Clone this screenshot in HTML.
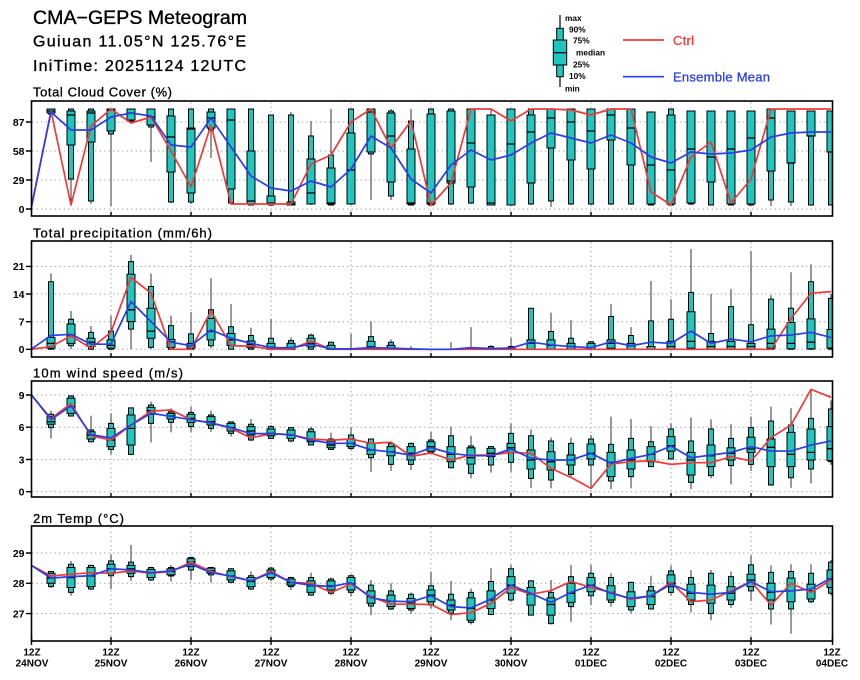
<!DOCTYPE html>
<html><head><meta charset="utf-8"><style>
html,body{margin:0;padding:0;background:#fff}
svg{display:block}
text{font-family:"Liberation Sans",sans-serif;fill:#000}
.th{stroke:#000;stroke-width:0.35}
.w{fill:none;stroke:#333;stroke-width:1;vector-effect:non-scaling-stroke}
.b{fill:#20c5be;stroke:#000;stroke-width:1;vector-effect:non-scaling-stroke}
.m{fill:none;stroke:#000;stroke-width:1.3;vector-effect:non-scaling-stroke}
.r{fill:none;stroke:#ee3a3a;stroke-width:1.7;stroke-linejoin:round;vector-effect:non-scaling-stroke}
.u{fill:none;stroke:#2a3ee6;stroke-width:1.7;stroke-linejoin:round;vector-effect:non-scaling-stroke}
.g{stroke:#aaa;stroke-width:1;stroke-dasharray:1.5 3;fill:none}
.f{fill:none;stroke:#000;stroke-width:1.6}
.t{stroke:#000;stroke-width:1.4}
.yl{font-size:10.5px;font-weight:bold;text-anchor:end}
.xl{font-size:10px;font-weight:bold;text-anchor:middle}
.pt{font-size:13px;stroke:#000;stroke-width:0.3}
.lg{font-size:8.3px;font-weight:bold}
</style></head><body>
<svg width="860" height="680" viewBox="0 0 860 680" xmlns="http://www.w3.org/2000/svg">
<defs>
<clipPath id="c1"><rect x="32" y="101" width="800" height="115"/></clipPath>
<clipPath id="c2"><rect x="32" y="241" width="800" height="116"/></clipPath>
<clipPath id="c3"><rect x="32" y="381" width="800" height="116"/></clipPath>
<clipPath id="c4"><rect x="32" y="526" width="800" height="115"/></clipPath>
</defs>

<!-- Titles -->
<text class="th" x="33" y="24" font-size="19.5" textLength="214" lengthAdjust="spacing">CMA−GEPS Meteogram</text>
<text class="th" x="33" y="46.7" font-size="16" textLength="213" lengthAdjust="spacing">Guiuan 11.05°N 125.76°E</text>
<text class="th" x="33" y="71" font-size="16" textLength="213" lengthAdjust="spacing">IniTime: 20251124 12UTC</text>

<!-- Legend -->
<line x1="560" y1="15" x2="560" y2="87" stroke="#000" stroke-width="1.2"/>
<rect x="556.7" y="28.3" width="6.6" height="48.4" fill="#20c5be" stroke="#000" stroke-width="1"/>
<rect x="553.3" y="40" width="13.4" height="25" fill="#20c5be" stroke="#000" stroke-width="1"/>
<line x1="553.3" y1="52.7" x2="566.7" y2="52.7" stroke="#000" stroke-width="1.2"/>
<text class="lg" x="565" y="21">max</text>
<text class="lg" x="569" y="32.3">90%</text>
<text class="lg" x="573" y="43.6">75%</text>
<text class="lg" x="576" y="55.7">median</text>
<text class="lg" x="573" y="67.4">25%</text>
<text class="lg" x="569" y="79">10%</text>
<text class="lg" x="565" y="91.5">min</text>
<line x1="623" y1="40" x2="664" y2="40" stroke="#ee3a3a" stroke-width="1.7"/>
<text x="673" y="45" font-size="13" style="fill:#ee3a3a;stroke:#ee3a3a;stroke-width:0.3" textLength="21" lengthAdjust="spacing">Ctrl</text>
<line x1="623" y1="76.7" x2="664" y2="76.7" stroke="#2a3ee6" stroke-width="1.7"/>
<text x="673" y="81.5" font-size="13" style="fill:#2a3ee6;stroke:#2a3ee6;stroke-width:0.3" textLength="97" lengthAdjust="spacing">Ensemble Mean</text>

<!-- Panel titles -->
<text class="pt" x="33" y="96.7" textLength="139" lengthAdjust="spacing">Total Cloud Cover (%)</text>
<text class="pt" x="33" y="237.3" textLength="179" lengthAdjust="spacing">Total precipitation (mm/6h)</text>
<text class="pt" x="33" y="377.7" textLength="150" lengthAdjust="spacing">10m wind speed (m/s)</text>
<text class="pt" x="33" y="523" textLength="91" lengthAdjust="spacing">2m Temp (°C)</text>

<!-- Grids -->
<path class="g" d="M32 122H832M32 151H832M32 180H832M32 209H832
M111 102V216M191 102V216M271 102V216M351 102V216M431 102V216M511 102V216M591 102V216M671 102V216M751 102V216"/>
<path class="g" d="M32 266.4H832M32 294H832M32 321.7H832M32 349.3H832
M111 242V357M191 242V357M271 242V357M351 242V357M431 242V357M511 242V357M591 242V357M671 242V357M751 242V357"/>
<path class="g" d="M32 395H832M32 427.2H832M32 459.5H832M32 491.7H832
M111 382V497M191 382V497M271 382V497M351 382V497M431 382V497M511 382V497M591 382V497M671 382V497M751 382V497"/>
<path class="g" d="M32 553H832M32 583.3H832M32 613.6H832
M111 527V641M191 527V641M271 527V641M351 527V641M431 527V641M511 527V641M591 527V641M671 527V641M751 527V641"/>

<!-- Panel 1: cloud cover -->
<g clip-path="url(#c1)"><g transform="matrix(1 0 0 -1 0 209)">
<path class="w" d="M51 94V100M71 5V100M91 5V100M111 3V100M131 86V100M151 47V100M171 6V100M191 5V100M211 51V100M231 5V100M251 4V100M271 4V94M291 4V97M311 4V88M331 4V100M351 4V100M371 9V100M391 9V100M411 4V100M431 4V100M451 4V100M471 5V100M491 4V100M511 4V100M531 4V100M551 2V100M571 4V100M591 4V100M611 4V100M631 4V100M651 4V97M671 4V100M691 4V98M711 4V98M731 4V98M751 4V98M771 3V100M791 3V98M811 4V98M831 4V98"/>
<path class="b" d="M48.5 95V100h5V95Z M68.5 30V100h5V30Z M88.5 8V100h5V8Z M108.5 75V100h5V75Z M128.5 88V100h5V88Z M148.5 82V100h5V82Z M168.5 7V100h5V7Z M188.5 7V100h5V7Z M208.5 79V100h5V79Z M228.5 6V100h5V6Z M248.5 4V100h5V4Z M268.5 4V94h5V4Z M288.5 4V94h5V4Z M308.5 5V73h5V5Z M328.5 4V54h5V4Z M348.5 5V100h5V5Z M368.5 55V100h5V55Z M388.5 13V98h5V13Z M408.5 4V88h5V4Z M428.5 4V100h5V4Z M448.5 5V100h5V5Z M468.5 6V100h5V6Z M488.5 4V94h5V4Z M508.5 4V100h5V4Z M528.5 5V100h5V5Z M548.5 8V100h5V8Z M568.5 5V100h5V5Z M588.5 5V100h5V5Z M608.5 5V100h5V5Z M628.5 5V100h5V5Z M648.5 4V97h5V4Z M668.5 4V100h5V4Z M688.5 5V98h5V5Z M708.5 4V98h5V4Z M728.5 4V98h5V4Z M748.5 4V98h5V4Z M768.5 9V100h5V9Z M788.5 7V98h5V7Z M808.5 4V98h5V4Z M828.5 4V98h5V4Z"/>
<path class="b" d="M47 96V100h8V96Z M67 64V98h8V64Z M87 67V98h8V67Z M107 78V100h8V78Z M127 89V100h8V89Z M147 84V100h8V84Z M167 37V93h8V37Z M187 16V81h8V16Z M207 81V97h8V81Z M227 20V100h8V20Z M247 5V58h8V5Z M267 5V13h8V5Z M287 4V7h8V4Z M307 5V50h8V5Z M327 5V41h8V5Z M347 5V76h8V5Z M367 57V100h8V57Z M387 27V96h8V27Z M407 5V60h8V5Z M427 5V95h8V5Z M447 26V98h8V26Z M467 22V100h8V22Z M487 4V94h8V4Z M507 4V100h8V4Z M527 26V94h8V26Z M547 61V100h8V61Z M567 49V100h8V49Z M587 40V100h8V40Z M607 69V100h8V69Z M627 44V100h8V44Z M647 5V97h8V5Z M667 5V94h8V5Z M687 6V98h8V6Z M707 27V98h8V27Z M727 5V98h8V5Z M747 5V98h8V5Z M767 38V100h8V38Z M787 46V98h8V46Z M807 73V98h8V73Z M827 57V98h8V57Z"/>
<path class="m" d="M47 98h8M67 94h8M87 96h8M107 99h8M127 96h8M147 92h8M167 72h8M187 80h8M207 91h8M227 89h8M247 8h8M267 6h8M287 5h8M307 16h8M327 6h8M347 39h8M367 97h8M387 73h8M407 6h8M427 6h8M447 28h8M467 66h8M487 6h8M507 65h8M527 77h8M547 91h8M567 87h8M587 78h8M607 94h8M627 81h8M647 44h8M667 39h8M687 60h8M707 52h8M727 60h8M747 71h8M767 91h8M787 46h8M807 73h8M827 57h8"/>
<polyline class="r" points="31,0 51,98 71,4 91,83 111,100 131,86 151,92 171,58 191,22 211,84 231,5 251,5 271,5 291,5 311,45 331,54 351,87 371,100 391,61 411,88 431,4 451,26 471,100 491,100 511,88 531,100 551,100 571,99 591,94 611,100 631,100 651,17 671,4 691,52 711,67 731,6 751,30 771,100 791,100 811,100 831,100"/>
<polyline class="u" points="31,0 51,97 71,79 91,79 111,92 131,96 151,93 171,64 191,62 211,91 231,62 251,33 271,21 291,18 311,28 331,22 351,40 371,73 391,61 411,30 431,16 451,44 471,59 491,49 511,54 531,66 551,76 571,71 591,66 611,74 631,66 651,52 671,46 691,57 711,55 731,56 751,59 771,72 791,76 811,77 831,77"/>
</g></g>

<!-- Panel 2: precipitation -->
<g clip-path="url(#c2)"><g transform="matrix(1 0 0 -3.95 0 349.3)">
<path class="w" d="M51 0V19.2M71 0V9.7M91 0V5.9M111 0V8.5M131 0V23.9M151 0V19.2M171 0V8.5M191 0V9.4M211 0.2V18M231 0V11.5M251 0V5.5M271 0V7.7M291 0V3M311 0V4M331 0V1.9M351 0V3.9M371 0V7M391 0V2.5M411 0V0.8M451 0V1.8M471 0V5.6M491 0V1.1M511 0V3M531 0V10.4M551 0V9.3M571 0V7.4M591 0V1.9M611 0V11.4M631 0V5.6M651 0V17.3M671 0V12.7M691 0V25.4M711 0V14M731 0V15.3M751 0V24.9M771 0V13.7M791 0V19.5M811 0V21.5M831 0V14"/>
<path class="b" d="M48.5 0V17.1h5V0Z M68.5 0.9V7.6h5V0.9Z M88.5 0V4.3h5V0Z M108.5 0V4.6h5V0Z M128.5 5.1V22.2h5V5.1Z M148.5 0.5V15.9h5V0.5Z M168.5 0V6h5V0Z M188.5 0V3.9h5V0Z M208.5 0.9V10h5V0.9Z M228.5 0V5.7h5V0Z M248.5 0V3.5h5V0Z M268.5 0V2.8h5V0Z M288.5 0V2.2h5V0Z M308.5 0V3.6h5V0Z M328.5 0V1.8h5V0Z M368.5 0V3.2h5V0Z M388.5 0V1.8h5V0Z M468.5 0V0.2h5V0Z M488.5 0V0.7h5V0Z M508.5 0V0.7h5V0Z M528.5 0V10.4h5V0Z M548.5 0V4.5h5V0Z M568.5 0V2.8h5V0Z M588.5 0V1.9h5V0Z M608.5 0V8.3h5V0Z M628.5 0V3.5h5V0Z M648.5 0V7.2h5V0Z M668.5 0V7.6h5V0Z M688.5 0V14.4h5V0Z M708.5 0V4h5V0Z M728.5 0V10.8h5V0Z M748.5 0V6.2h5V0Z M768.5 0V12.7h5V0Z M788.5 0V10.4h5V0Z M808.5 0V17.1h5V0Z M828.5 0V12.9h5V0Z"/>
<path class="b" d="M47 0.3V3h8V0.3Z M67 1.5V6.4h8V1.5Z M87 0.7V2.8h8V0.7Z M107 0.3V2.4h8V0.3Z M127 7V19h8V7Z M147 2.8V10.4h8V2.8Z M167 0.5V2.5h8V0.5Z M187 0.3V1.5h8V0.3Z M207 2.4V7.8h8V2.4Z M227 1V4h8V1Z M247 0.4V2.1h8V0.4Z M267 0V1.5h8V0Z M287 0V1.5h8V0Z M307 0.6V2.8h8V0.6Z M327 0V1h8V0Z M367 0V2h8V0Z M387 0V1h8V0Z M487 0V0.3h8V0Z M507 0V0.4h8V0Z M527 0V2.4h8V0Z M547 0V2.4h8V0Z M567 0V1.5h8V0Z M587 0V1.5h8V0Z M607 0.3V2.4h8V0.3Z M627 0V1.5h8V0Z M647 0V0.7h8V0Z M667 0V2h8V0Z M687 0.3V9.5h8V0.3Z M707 0V2h8V0Z M727 0V2h8V0Z M747 0V1.5h8V0Z M767 0.3V5.1h8V0.3Z M787 0.1V6.8h8V0.1Z M807 0.1V7.7h8V0.1Z M827 0.3V5h8V0.3Z"/>
<path class="m" d="M47 1.5h8M67 3.6h8M87 1.8h8M107 1h8M127 10h8M147 4.6h8M167 1.9h8M187 0.9h8M207 4.5h8M227 2.4h8M247 1.2h8M267 0.5h8M287 0.3h8M307 1.5h8M367 0.6h8M527 1.5h8M547 1h8M567 0.7h8M607 1.5h8M627 0.9h8M667 0.7h8M687 2h8M707 0.7h8M727 0.7h8M747 0.7h8M767 1.5h8M787 1.5h8M807 1.8h8M827 0.3h8"/>
<polyline class="r" points="31,0 51,0.7 71,3.4 91,0.3 111,4.3 131,18.2 151,14.2 171,0 191,0 211,9.7 231,0.9 251,0.8 271,0 291,0 311,2.1 331,0 771,0 791,7.8 811,14.2 831,14.6"/>
<polyline class="u" points="31,0 51,3.5 71,3.8 91,1.3 111,1.3 131,12.1 151,7 171,1.8 191,0.9 211,4.9 231,2.8 251,1.5 271,0.4 291,0.4 311,1.3 331,0.1 351,0.1 371,0.4 391,0.3 411,0.1 431,0 451,0 471,0.4 491,0.2 511,0.3 531,1.8 551,1.1 571,0.7 591,0.4 611,1.9 631,0.9 651,1.8 671,1.5 691,4.6 711,1.5 731,2.6 751,1.9 771,3.4 791,3.6 811,4.3 831,3"/>
</g></g>

<!-- Panel 3: wind -->
<g clip-path="url(#c3)"><g transform="matrix(1 0 0 -10.75 0 491.7)">
<path class="w" d="M51 4.96V7.54M71 6.98V9M91 4.59V7.07M111 3.47V7.29M131 3.4V7.82M151 4.59V8.38M171 5.52V7.76M191 5.58V7.91M211 5.58V7.54M231 5.12V6.51M251 4.7V6.76M271 4.9V6.2M291 4.6V5.97M311 4.3V6.05M331 3.88V5.49M351 3.88V5.99M371 1.86V4.91M391 1.92V4.59M411 2.02V4.59M431 3.5V5.6M451 2.17V6.05M471 1.24V5.21M491 1.77V4.2M511 1.86V6.36M531 0.37V5.8M551 0.31V5.03M571 1.4V5.03M591 0.47V5.27M611 0.25V6.98M631 0.31V6.76M651 2.3V6.11M671 3V6.36M691 0.25V6.89M711 1.24V6.73M731 0.68V6.27M751 1.92V6.98M771 0.56V7.91M791 0.37V7.76M811 0.78V9.46M831 2.5V8.5"/>
<path class="b" d="M48.5 5.96V7.2h5V5.96Z M68.5 7.04V8.9h5V7.04Z M88.5 4.65V5.74h5V4.65Z M108.5 3.94V6.36h5V3.94Z M128.5 3.47V7.8h5V3.47Z M148.5 6.36V8.07h5V6.36Z M168.5 6.45V7.44h5V6.45Z M188.5 6.05V7.38h5V6.05Z M208.5 5.89V7.13h5V5.89Z M228.5 5.43V6.5h5V5.43Z M248.5 4.81V6.27h5V4.81Z M268.5 4.96V6.05h5V4.96Z M288.5 4.72V5.96h5V4.72Z M308.5 4.34V5.83h5V4.34Z M328.5 3.94V4.9h5V3.94Z M348.5 4.03V5.27h5V4.03Z M368.5 3.16V4.9h5V3.16Z M388.5 2.54V4.5h5V2.54Z M408.5 2.54V4.5h5V2.54Z M428.5 3.66V4.81h5V3.66Z M448.5 2.23V5.21h5V2.23Z M468.5 1.71V4.25h5V1.71Z M488.5 2.48V4.19h5V2.48Z M508.5 2.73V5.43h5V2.73Z M528.5 1.24V5.21h5V1.24Z M548.5 1.09V4.72h5V1.09Z M568.5 1.61V4.5h5V1.61Z M588.5 2.48V4.9h5V2.48Z M608.5 0.99V4.4h5V0.99Z M628.5 1.4V4.96h5V1.4Z M648.5 2.33V4.65h5V2.33Z M668.5 3.04V5.83h5V3.04Z M688.5 0.87V4.72h5V0.87Z M708.5 1.49V5.83h5V1.49Z M728.5 2.42V4.96h5V2.42Z M748.5 2.54V5.96h5V2.54Z M768.5 0.62V6.58h5V0.62Z M788.5 1.3V6.2h5V1.3Z M808.5 2.11V6.82h5V2.11Z M828.5 2.8V7.69h5V2.8Z"/>
<path class="b" d="M47 6.27V6.98h8V6.27Z M67 7.29V8.69h8V7.29Z M87 4.9V5.58h8V4.9Z M107 4.19V5.89h8V4.19Z M127 4.34V7.13h8V4.34Z M147 7.2V7.85h8V7.2Z M167 6.76V7.29h8V6.76Z M187 6.45V7.2h8V6.45Z M207 6.2V6.98h8V6.2Z M227 5.65V6.36h8V5.65Z M247 5.27V6.05h8V5.27Z M267 5.21V5.83h8V5.21Z M287 4.96V5.74h8V4.96Z M307 4.65V5.58h8V4.65Z M327 4.09V4.72h8V4.09Z M347 4.19V4.9h8V4.19Z M367 3.47V4.5h8V3.47Z M387 3.35V4.19h8V3.35Z M407 2.95V4.19h8V2.95Z M427 3.78V4.65h8V3.78Z M447 2.79V4.19h8V2.79Z M467 2.57V4.09h8V2.57Z M487 3.26V4.03h8V3.26Z M507 3.66V4.5h8V3.66Z M527 2.11V3.88h8V2.11Z M547 2.02V3.72h8V2.02Z M567 2.48V3.41h8V2.48Z M587 3.04V4.44h8V3.04Z M607 1.4V3.66h8V1.4Z M627 2.11V3.88h8V2.11Z M647 2.79V4.19h8V2.79Z M667 3.78V5.12h8V3.78Z M687 1.55V3.66h8V1.55Z M707 2.33V4.34h8V2.33Z M727 2.95V4.09h8V2.95Z M747 3.66V5.06h8V3.66Z M767 2.33V4.9h8V2.33Z M787 2.33V5.52h8V2.33Z M807 2.95V5.83h8V2.95Z M827 2.9V6.05h8V2.9Z"/>
<path class="m" d="M47 6.51h8M67 7.91h8M87 5.27h8M107 4.81h8M127 5.89h8M147 7.54h8M167 7.04h8M187 6.82h8M207 6.51h8M227 5.96h8M247 5.65h8M267 5.43h8M287 5.27h8M307 4.81h8M327 4.34h8M347 4.5h8M367 3.88h8M387 3.72h8M407 3.57h8M427 4.19h8M447 3.47h8M467 3.16h8M487 3.57h8M507 4.09h8M527 2.95h8M547 2.79h8M567 2.95h8M587 3.57h8M607 2.73h8M627 2.95h8M647 3.47h8M667 4.28h8M687 2.95h8M707 3.35h8M727 3.57h8M747 3.97h8M767 4.13h8M787 3.47h8M807 3.66h8M827 4h8"/>
<polyline class="r" points="31,9.05 51,6.8 71,8.2 91,5.2 111,4.8 131,6.2 151,7.5 171,7.6 191,6.7 211,6.4 231,5.9 251,5 271,5.4 291,5.3 311,4.9 331,4.8 351,4.9 371,4.5 391,4.6 411,3.3 431,3.6 451,2.95 471,3.41 491,3.41 511,3.66 531,3.57 551,2.17 571,1.33 591,0.31 611,2.57 631,2.79 651,2.88 671,2.54 691,2.7 711,2.7 731,3.26 751,2.85 771,5.03 791,6.2 811,9.52 831,8.78"/>
<polyline class="u" points="31,9.05 51,6.7 71,8 91,5.3 111,5 131,6.2 151,7.3 171,7 191,6.7 211,6.4 231,5.96 251,5.4 271,5.4 291,5.3 311,4.8 331,4.5 351,4.5 371,3.9 391,3.7 411,3.4 431,4.1 451,3.57 471,3.35 491,3.35 511,3.97 531,3.1 551,2.95 571,2.95 591,3.57 611,2.64 631,3.1 651,3.47 671,4.25 691,3.16 711,3.41 731,3.66 751,4.19 771,3.78 791,3.78 811,4.34 831,4.72"/>
</g></g>

<!-- Panel 4: temperature -->
<g clip-path="url(#c4)"><g transform="matrix(1 0 0 -30.3 0 1431.7)">
<path class="w" d="M51 27.85V28.4M71 27.59V28.74M91 27.78V28.61M111 27.81V28.96M131 28.08V29.27M151 28.08V28.55M171 28.06V28.61M191 28.11V28.88M211 28.02V28.55M231 28V28.5M251 27.78V28.39M271 28.08V28.55M291 27.78V28.22M311 27.59V28.35M331 27.61V28.19M351 27.56V28.3M371 26.95V28.11M391 27.12V28M411 27V27.7M431 27.17V28.39M451 26.78V28.08M471 26.64V27.83M491 26.95V28.5M511 27.39V28.61M531 26.94V28.11M551 26.64V28.11M571 26.73V28.61M591 27.28V28.61M611 27.23V28.33M631 27.01V28.06M651 27.14V28.25M671 27.59V28.59M691 27.04V28.44M711 26.78V28.44M731 27.19V28.39M751 27.41V28.92M771 26.64V28.59M791 26.34V28.63M811 27.34V28.63M831 27.6V28.77"/>
<path class="b" d="M48.5 27.89V28.39h5V27.89Z M68.5 27.7V28.63h5V27.7Z M88.5 27.81V28.59h5V27.81Z M108.5 28.25V28.74h5V28.25Z M128.5 28.22V28.7h5V28.22Z M148.5 28.11V28.52h5V28.11Z M168.5 28.24V28.52h5V28.24Z M188.5 28.44V28.85h5V28.44Z M208.5 28.28V28.52h5V28.28Z M228.5 28.03V28.48h5V28.03Z M248.5 27.81V28.25h5V27.81Z M268.5 28.14V28.5h5V28.14Z M288.5 27.89V28.19h5V27.89Z M308.5 27.61V28.19h5V27.61Z M328.5 27.67V28.14h5V27.67Z M348.5 27.7V28.25h5V27.7Z M368.5 27.25V27.94h5V27.25Z M388.5 27.15V27.75h5V27.15Z M408.5 27.12V27.64h5V27.12Z M428.5 27.28V27.92h5V27.28Z M448.5 27.01V27.64h5V27.01Z M468.5 26.71V27.7h5V26.71Z M488.5 26.97V28.06h5V26.97Z M508.5 27.45V28.48h5V27.45Z M528.5 26.95V28.08h5V26.95Z M548.5 26.67V27.7h5V26.67Z M568.5 27.23V28.22h5V27.23Z M588.5 27.59V28.33h5V27.59Z M608.5 27.37V28.19h5V27.37Z M628.5 27.12V28.03h5V27.12Z M648.5 27.15V27.89h5V27.15Z M668.5 27.7V28.41h5V27.7Z M688.5 27.3V28.19h5V27.3Z M708.5 27V28.33h5V27Z M728.5 27.3V28.22h5V27.3Z M748.5 27.75V28.61h5V27.75Z M768.5 27.15V28.36h5V27.15Z M788.5 27.15V28.39h5V27.15Z M808.5 27.39V28.33h5V27.39Z M828.5 27.67V28.7h5V27.67Z"/>
<path class="b" d="M47 28V28.33h8V28Z M67 27.86V28.52h8V27.86Z M87 27.89V28.52h8V27.89Z M107 28.33V28.63h8V28.33Z M127 28.33V28.59h8V28.33Z M147 28.19V28.46h8V28.19Z M167 28.28V28.48h8V28.28Z M187 28.55V28.81h8V28.55Z M207 28.33V28.5h8V28.33Z M227 28.11V28.41h8V28.11Z M247 27.89V28.19h8V27.89Z M267 28.19V28.44h8V28.19Z M287 27.94V28.14h8V27.94Z M307 27.7V28.08h8V27.7Z M327 27.78V28.08h8V27.78Z M347 27.78V28.19h8V27.78Z M367 27.34V27.75h8V27.34Z M387 27.23V27.61h8V27.23Z M407 27.17V27.5h8V27.17Z M427 27.39V27.78h8V27.39Z M447 27.12V27.45h8V27.12Z M467 26.78V27.52h8V26.78Z M487 27.17V27.75h8V27.17Z M507 27.67V28.22h8V27.67Z M527 27.28V27.86h8V27.28Z M547 26.95V27.52h8V26.95Z M567 27.37V28h8V27.37Z M587 27.72V28.19h8V27.72Z M607 27.45V27.92h8V27.45Z M627 27.23V27.72h8V27.23Z M647 27.3V27.75h8V27.3Z M667 27.89V28.28h8V27.89Z M687 27.45V27.97h8V27.45Z M707 27.34V27.94h8V27.34Z M727 27.45V27.89h8V27.45Z M747 27.89V28.3h8V27.89Z M767 27.45V28h8V27.45Z M787 27.39V28.17h8V27.39Z M807 27.48V27.97h8V27.48Z M827 27.86V28.44h8V27.86Z"/>
<path class="m" d="M47 28.17h8M67 28.19h8M87 28.24h8M107 28.48h8M127 28.48h8M147 28.33h8M167 28.39h8M187 28.7h8M207 28.41h8M227 28.24h8M247 28.06h8M267 28.33h8M287 28.02h8M307 27.92h8M327 27.92h8M347 27.98h8M367 27.56h8M387 27.41h8M407 27.34h8M427 27.61h8M447 27.28h8M467 27.17h8M487 27.45h8M507 27.94h8M527 27.64h8M547 27.3h8M567 27.67h8M587 27.94h8M607 27.7h8M627 27.5h8M647 27.56h8M667 28h8M687 27.67h8M707 27.64h8M727 27.67h8M747 28.11h8M767 27.7h8M787 27.75h8M807 27.75h8M827 28.14h8"/>
<polyline class="r" points="31,28.6 51,28.24 71,28.3 91,28.35 111,28.33 131,28.41 151,28.33 171,28.39 191,28.7 211,28.39 231,28.22 251,28.08 271,28.39 291,28.03 311,28 331,27.7 351,27.98 371,27.56 391,27.31 411,27.31 431,27.3 451,26.97 471,27.03 491,27.34 511,27.86 531,27.64 551,27.76 571,28.06 591,27.86 611,27.7 631,27.47 651,27.58 671,28.03 691,27.39 711,27.45 731,27.75 751,28.06 771,27.28 791,28 811,27.7 831,28.11"/>
<polyline class="u" points="31,28.6 51,28.17 71,28.22 91,28.25 111,28.48 131,28.44 151,28.35 171,28.41 191,28.63 211,28.35 231,28.24 251,28.08 271,28.35 291,28.03 311,27.94 331,27.89 351,28.02 371,27.52 391,27.41 411,27.39 431,27.59 451,27.23 471,27.19 491,27.48 511,27.94 531,27.67 551,27.37 571,27.7 591,27.94 611,27.67 631,27.5 651,27.59 671,27.97 691,27.7 711,27.64 731,27.7 751,28.06 771,27.72 791,27.75 811,27.81 831,28.17"/>
</g></g>

<!-- Frames -->
<rect class="f" x="31.5" y="101" width="801" height="115"/>
<rect class="f" x="31.5" y="241" width="801" height="116"/>
<rect class="f" x="31.5" y="381" width="801" height="116"/>
<rect class="f" x="31.5" y="526" width="801" height="115"/>

<!-- Y ticks -->
<path class="t" d="M26 122H32M26 151H32M26 180H32M26 209H32
M26 266.4H32M26 294H32M26 321.7H32M26 349.3H32
M26 395H32M26 427.2H32M26 459.5H32M26 491.7H32
M26 553H32M26 583.3H32M26 613.6H32"/>
<!-- X ticks -->
<path class="t" d="M111 212V216M191 212V216M271 212V216M351 212V216M431 212V216M511 212V216M591 212V216M671 212V216M751 212V216
M111 353V357M191 353V357M271 353V357M351 353V357M431 353V357M511 353V357M591 353V357M671 353V357M751 353V357
M111 493V497M191 493V497M271 493V497M351 493V497M431 493V497M511 493V497M591 493V497M671 493V497M751 493V497
M31.5 637V645M111 637V645M191 637V645M271 637V645M351 637V645M431 637V645M511 637V645M591 637V645M671 637V645M751 637V645M832.5 637V645"/>

<!-- Y labels -->
<text class="yl" x="24.5" y="125.8">87</text>
<text class="yl" x="24.5" y="154.8">58</text>
<text class="yl" x="24.5" y="183.8">29</text>
<text class="yl" x="24.5" y="212.8">0</text>
<text class="yl" x="24.5" y="270.2">21</text>
<text class="yl" x="24.5" y="297.8">14</text>
<text class="yl" x="24.5" y="325.5">7</text>
<text class="yl" x="24.5" y="353.1">0</text>
<text class="yl" x="24.5" y="398.8">9</text>
<text class="yl" x="24.5" y="431">6</text>
<text class="yl" x="24.5" y="463.3">3</text>
<text class="yl" x="24.5" y="495.5">0</text>
<text class="yl" x="24.5" y="556.8">29</text>
<text class="yl" x="24.5" y="587.1">28</text>
<text class="yl" x="24.5" y="617.4">27</text>

<!-- X labels -->
<g>
<text class="xl" x="32" y="655.7">12Z</text><text class="xl" x="32" y="666.7">24NOV</text>
<text class="xl" x="111" y="655.7">12Z</text><text class="xl" x="111" y="666.7">25NOV</text>
<text class="xl" x="191" y="655.7">12Z</text><text class="xl" x="191" y="666.7">26NOV</text>
<text class="xl" x="271" y="655.7">12Z</text><text class="xl" x="271" y="666.7">27NOV</text>
<text class="xl" x="351" y="655.7">12Z</text><text class="xl" x="351" y="666.7">28NOV</text>
<text class="xl" x="431" y="655.7">12Z</text><text class="xl" x="431" y="666.7">29NOV</text>
<text class="xl" x="511" y="655.7">12Z</text><text class="xl" x="511" y="666.7">30NOV</text>
<text class="xl" x="591" y="655.7">12Z</text><text class="xl" x="591" y="666.7">01DEC</text>
<text class="xl" x="671" y="655.7">12Z</text><text class="xl" x="671" y="666.7">02DEC</text>
<text class="xl" x="751" y="655.7">12Z</text><text class="xl" x="751" y="666.7">03DEC</text>
<text class="xl" x="832" y="655.7">12Z</text><text class="xl" x="832" y="666.7">04DEC</text>
</g>
</svg>
</body></html>
